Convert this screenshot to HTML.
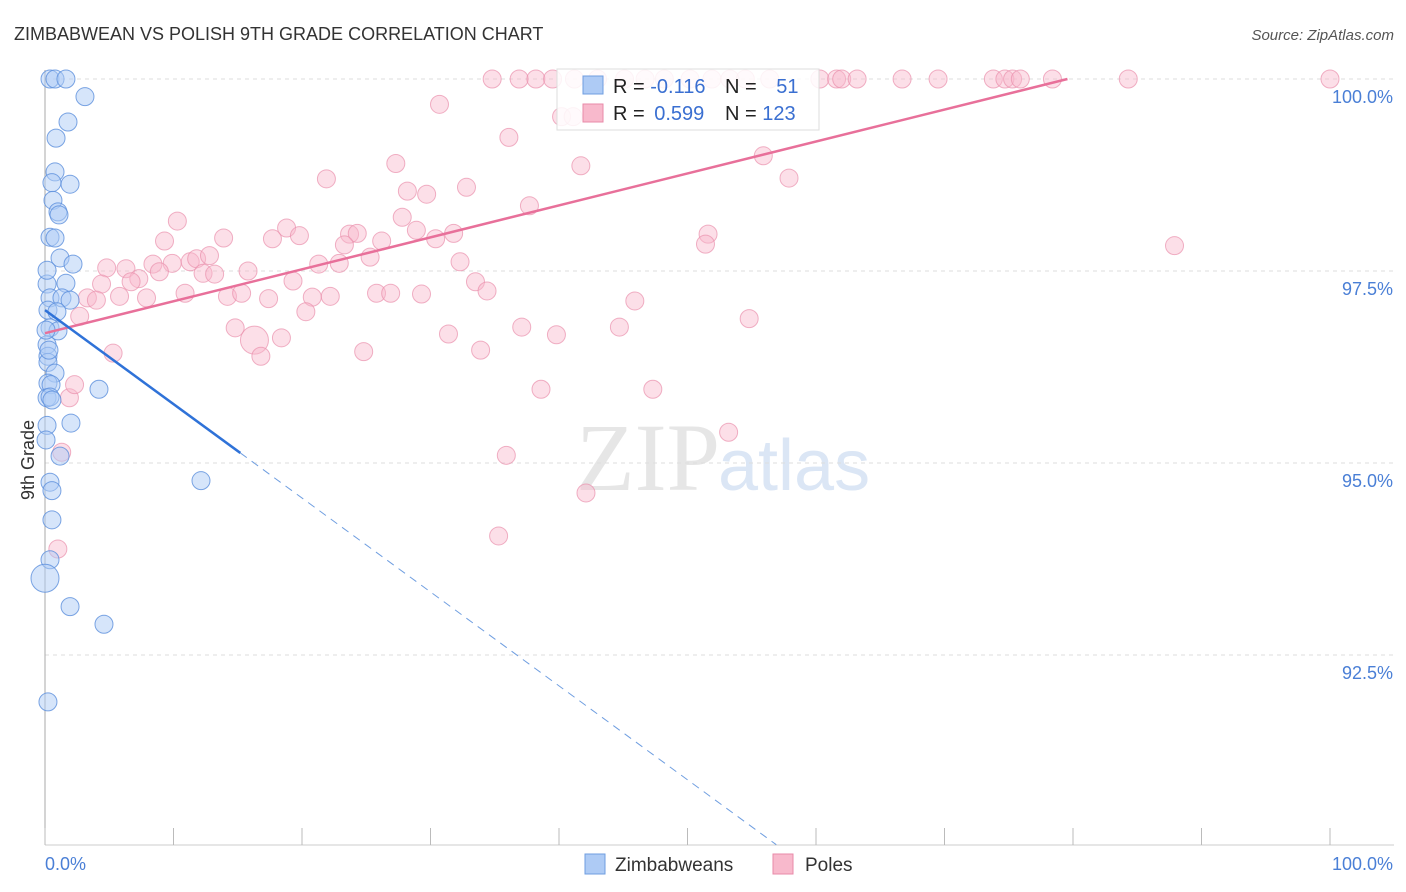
<!DOCTYPE html>
<html><head><meta charset="utf-8"><style>
body{margin:0;background:#fff;font-family:"Liberation Sans",sans-serif}
svg{display:block}
</style></head><body>
<svg id="c" width="1406" height="892">
<text x="14" y="40" font-size="18" fill="#333">ZIMBABWEAN VS POLISH 9TH GRADE CORRELATION CHART</text>
<text x="1394" y="40" font-size="15" fill="#555" font-style="italic" text-anchor="end">Source: ZipAtlas.com</text>
<text x="720" y="490" font-size="96" fill="#e6e6e6" text-anchor="end" font-family="Liberation Serif">ZIP</text>
<text x="718" y="490" font-size="72" fill="#dbe6f5">atlas</text>
<g id="grid"></g>
<g id="marks"></g>
<g id="lines"></g>
<text x="34" y="460" font-size="18" fill="#333" text-anchor="middle" transform="rotate(-90 34 460)">9th Grade</text>
<g>
<rect x="557" y="69" width="262" height="61" fill="#fff" stroke="#ddd" fill-opacity="0.85"/>
<rect x="583" y="76" width="20" height="18" fill="#aecbf5" stroke="#6f9ee0"/>
<rect x="583" y="104" width="20" height="18" fill="#f8b9cc" stroke="#e88aa8"/>
<text x="613" y="93" font-size="20" fill="#222">R = <tspan fill="#3a6fd1">-0.116</tspan></text>
<text x="725" y="93" font-size="20" fill="#222">N = <tspan dx="14" fill="#3a6fd1">51</tspan></text>
<text x="613" y="120" font-size="20" fill="#222">R = <tspan dx="4" fill="#3a6fd1">0.599</tspan></text>
<text x="725" y="120" font-size="20" fill="#222">N = <tspan fill="#3a6fd1">123</tspan></text>
</g>
<g>
<rect x="585" y="854" width="20" height="20" fill="#aecbf5" stroke="#6f9ee0"/>
<text x="615" y="871" font-size="19" fill="#333">Zimbabweans</text>
<rect x="773" y="854" width="20" height="20" fill="#f8b9cc" stroke="#e88aa8"/>
<text x="805" y="871" font-size="19" fill="#333">Poles</text>
</g>
</svg>
<script>
const yTicks=[100,97.5,95,92.5];
const yTickLabels=["100.0%","97.5%","95.0%","92.5%"];
const xTickLabels=["0.0%","100.0%"];
const blueX=[0.39,0.78,1.63,3.11,1.79,0.86,0.78,0.54,1.95,0.62,1.01,1.09,0.39,0.78,1.17,2.18,0.16,1.63,0.39,1.32,1.95,0.23,0.93,0.39,1.01,0.16,0.23,0.23,0.78,0.23,0.47,4.2,0.16,0.39,0.16,2.02,1.17,0.39,0.54,12.14,0.54,0.39,0,1.95,4.59,0.23,0.08,0.31,0.54,0.08,0.16];
const blueY=[100,100,100,99.77,99.44,99.23,98.79,98.65,98.63,98.42,98.27,98.23,97.94,97.93,97.67,97.59,97.33,97.34,97.15,97.15,97.12,96.99,96.97,96.76,96.72,96.54,96.39,96.31,96.17,96.04,96.02,95.96,95.85,95.86,95.49,95.52,95.09,94.75,94.64,94.77,94.26,93.74,93.5,93.13,92.9,91.89,96.73,96.47,95.82,95.3,97.51];
const pinkX=[34.8,36.9,38.2,39.5,41.2,43.0,45.1,46.7,48.2,50.2,51.9,53.3,54.5,56.4,60.3,61.6,62.0,63.2,66.7,69.5,73.8,74.7,75.3,75.9,78.4,84.3,100,
30.7,40.2,41.1,36.1,27.3,41.7,55.9,21.9,32.8,28.2,29.7,57.9,37.7,10.3,27.8,18.8,9.3,13.9,17.7,19.8,23.7,24.3,26.2,28.9,31.8,30.4,23.3,51.6,51.4,87.9,25.3,21.3,22.9,32.3,4.8,6.3,8.4,9.9,11.3,11.8,12.8,8.9,15.8,12.3,13.2,7.3,4.4,6.7,19.3,33.5,34.4,10.9,3.3,5.8,7.9,4.0,14.2,15.3,17.4,20.8,22.2,25.8,26.9,29.3,45.9,20.3,2.7,14.8,16.3,18.4,31.4,37.1,39.8,44.7,54.8,5.3,16.8,24.8,33.9,38.6,47.3,53.2,35.9,42.1,35.3,1.9,1.3,1.0,2.3];
const pinkY=[100,100,100,100,100,100,100,100,100,100,100,100,100,100,100,100,100,100,100,100,100,100,100,100,100,100,100,
99.67,99.51,99.51,99.24,98.9,98.87,99.0,98.7,98.59,98.54,98.5,98.71,98.35,98.15,98.2,98.06,97.89,97.93,97.92,97.96,97.98,97.99,97.89,98.03,97.99,97.92,97.84,97.98,97.85,97.83,97.68,97.59,97.6,97.62,97.54,97.53,97.59,97.6,97.62,97.66,97.7,97.49,97.5,97.47,97.46,97.4,97.33,97.36,97.37,97.36,97.24,97.21,97.15,97.17,97.15,97.12,97.17,97.21,97.14,97.16,97.17,97.21,97.21,97.2,97.11,96.97,96.91,96.76,96.6,96.63,96.68,96.77,96.67,96.77,96.88,96.43,96.39,96.45,96.47,95.96,95.96,95.4,95.1,94.61,94.05,95.85,95.14,93.88,96.02];
const pinkBig={95:14,117:18,118:20,119:20,120:14};
const blueBig={42:14};
const blueFit=[96.99,-0.1223];
const pinkFit=[96.69,0.0416];
const X=v=>45+v*12.85, Y=v=>79+(100-v)*76.8;
const NS="http://www.w3.org/2000/svg";
function mk(t,a,p){const e=document.createElementNS(NS,t);for(const k in a)e.setAttribute(k,a[k]);p.appendChild(e);return e;}
const svg=document.getElementById('c'),grid=document.getElementById('grid'),marks=document.getElementById('marks'),lines=document.getElementById('lines');
yTicks.forEach((t,i)=>{
 const g=mk('line',{x1:45,x2:1394,y1:Y(t),y2:Y(t),stroke:'#ddd','stroke-dasharray':'4,4'},grid);
 
 
 const l=mk('text',{x:1393,y:Y(t)+24,'font-size':18,fill:'#4a7fd6','text-anchor':'end'},grid);
 l.textContent=yTickLabels[i];
 
 
});
const ax=mk('line',{x1:45,x2:45,y1:70,y2:845,stroke:'#aaa'},grid);


const bx=mk('line',{x1:45,x2:1394,y1:845,y2:845,stroke:'#ccc'},grid);


for(let i=0;i<=10;i++){const t=mk('line',{x1:X(i*10),x2:X(i*10),y1:828,y2:845,stroke:'#bbb'},grid);
 
 }
[[0,'start'],[100,'end']].forEach((d,i)=>{const t=mk('text',{x:i?1393:45,y:870,'font-size':18,fill:'#4a7fd6','text-anchor':d[1]},grid);t.textContent=xTickLabels[i];
 
 });
pinkX.forEach((x,i)=>{const c=mk('circle',{cx:X(x),cy:Y(pinkY[i]),r:pinkBig[i]||9,fill:'#f8b9cc','fill-opacity':0.45,stroke:'#e990ad','stroke-opacity':0.7},marks);
 
 });
blueX.forEach((x,i)=>{const c=mk('circle',{cx:X(x),cy:Y(blueY[i]),r:blueBig[i]||9,fill:'#aecbf5','fill-opacity':0.5,stroke:'#5b8fdc','stroke-opacity':0.8},marks);
 
 });
const pl=mk('line',{x1:X(0),y1:Y(pinkFit[0]),x2:X((100-pinkFit[0])/pinkFit[1]),y2:Y(100),stroke:'#e8709a','stroke-width':2.5},lines);


const bs=mk('line',{x1:X(0),y1:Y(blueFit[0]),x2:X(15.2),y2:Y(blueFit[0]+blueFit[1]*15.2),stroke:'#2f72d8','stroke-width':2.5},lines);


const xe=(90.03-blueFit[0])/blueFit[1];
const bd=mk('line',{x1:X(15.2),y1:Y(blueFit[0]+blueFit[1]*15.2),x2:X(xe),y2:Y(90.03),stroke:'#6f9ee0','stroke-width':1,'stroke-dasharray':'8,6'},lines);


</script>
</body></html>
